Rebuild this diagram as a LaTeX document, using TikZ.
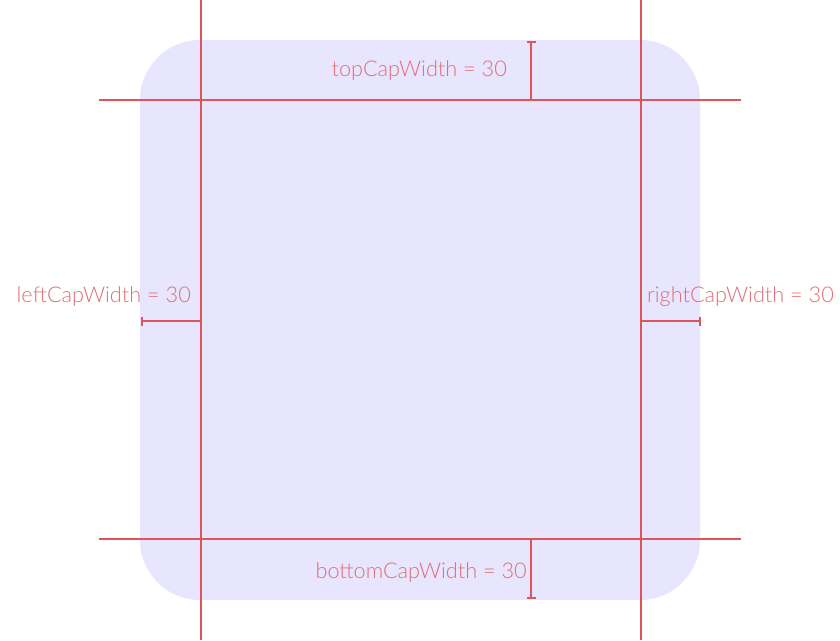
\documentclass[tikz,border=0pt]{standalone}
\usepackage{fontspec}
\setmainfont{Lato}[UprightFont=* Light]
\usetikzlibrary{arrows.meta}
\definecolor{guide}{RGB}{221,85,88}
\definecolor{capfill}{RGB}{232,230,255}
\definecolor{labeltxt}{RGB}{224,110,115}
\begin{document}
\begin{tikzpicture}[x=1pt,y=-1pt,
  guideline/.style={draw=guide,line width=2pt},
  capline/.style={guideline,{Bar[width=9pt,line width=2pt]}-},
  caplabel/.style={text=labeltxt,font=\fontsize{21.7}{26}\selectfont,inner sep=0pt}]
  \useasboundingbox (0,0) rectangle (840,640);
  % the nine-patch area
  \fill[capfill,rounded corners=60pt] (140,40) rectangle (700,600);
  % slice lines
  \coordinate (lt) at (201,0);   \coordinate (lb) at (201,640);
  \coordinate (rt) at (641,0);   \coordinate (rb) at (641,640);
  \coordinate (tl) at (99,100);  \coordinate (tr) at (741,100);
  \coordinate (bl) at (99,539);  \coordinate (br) at (741,539);
  \draw[guideline] (lt) -- (lb);
  \draw[guideline] (rt) -- (rb);
  \draw[guideline] (tl) -- (tr);
  \draw[guideline] (bl) -- (br);
  % cap widths
  \coordinate (top0) at (531,41);   \coordinate (top1) at (531,100);
  \coordinate (left0) at (141,321); \coordinate (left1) at (201,321);
  \coordinate (right0) at (701,321);\coordinate (right1) at (641,321);
  \coordinate (bot0) at (531,599);  \coordinate (bot1) at (531,539);
  \draw[capline] (top0) -- (top1);
  \draw[capline] (left0) -- (left1);
  \draw[capline] (right0) -- (right1);
  \draw[capline] (bot0) -- (bot1);
  \node[caplabel,anchor=east] (toplbl) at (507,71) {topCapWidth = 30};
  \node[caplabel,anchor=east] (leftlbl) at (191,297) {leftCapWidth = 30};
  \node[caplabel,anchor=west] (rightlbl) at (647,297) {rightCapWidth = 30};
  \node[caplabel,anchor=east] (botlbl) at (527,573) {bottomCapWidth = 30};
\end{tikzpicture}
\end{document}
